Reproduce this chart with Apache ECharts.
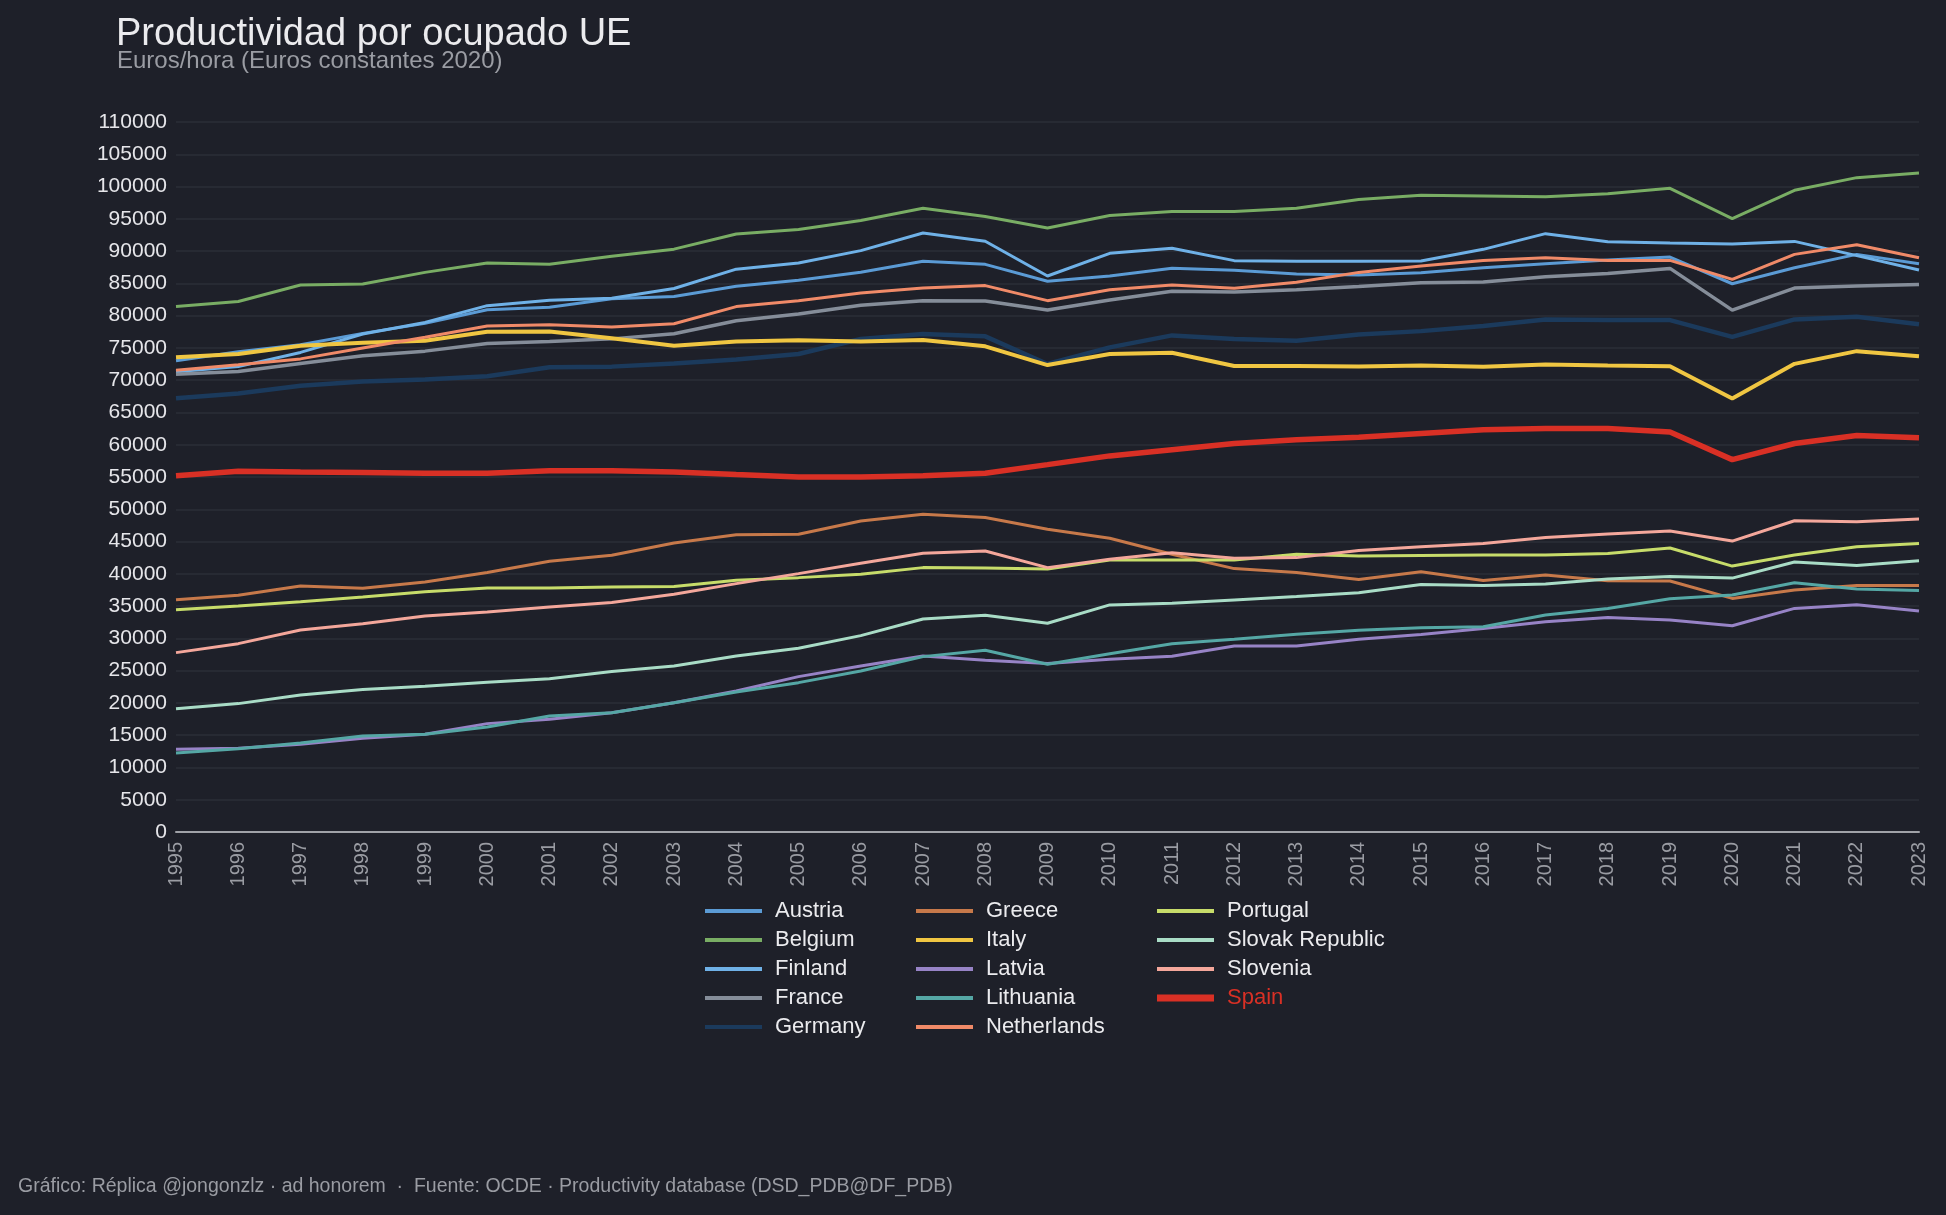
<!DOCTYPE html>
<html lang="es">
<head>
<meta charset="UTF-8">
<title>Productividad por ocupado UE</title>
<script src="https://cdn.jsdelivr.net/npm/echarts@6/dist/echarts.min.js"></script>
<style>
html, body { margin: 0; padding: 0; background: #1e2029; }
#chart { width: 1946px; height: 1215px; }
</style>
</head>
<body>
<div id="chart"></div>
<script>
const years = ['1995','1996','1997','1998','1999','2000','2001','2002','2003','2004','2005','2006','2007','2008','2009','2010','2011','2012','2013','2014','2015','2016','2017','2018','2019','2020','2021','2022','2023'];

const austria = [73000, 74400, 75500, 77250, 78800, 80900, 81300, 82600, 82950, 84550, 85470, 86710, 88420, 87950, 85320, 86140, 87330, 87020, 86450, 86300, 86650, 87420, 88040, 88610, 89080, 84940, 87420, 89490, 88040];
const belgium = [81400, 82200, 84750, 84900, 86700, 88150, 87950, 89200, 90300, 92650, 93330, 94730, 96640, 95350, 93590, 95500, 96120, 96120, 96640, 98000, 98640, 98540, 98430, 98900, 99730, 95020, 99420, 101380, 102100];
const finland = [71300, 72100, 74300, 77150, 78950, 81550, 82400, 82700, 84200, 87200, 88160, 90070, 92810, 91520, 86140, 89660, 90440, 88520, 88420, 88440, 88460, 90270, 92700, 91450, 91250, 91090, 91500, 89300, 87060];
const france = [70900, 71350, 72600, 73800, 74500, 75700, 76000, 76400, 77200, 79200, 80250, 81600, 82320, 82270, 80870, 82420, 83770, 83660, 84020, 84530, 85090, 85200, 86030, 86540, 87320, 80860, 84270, 84580, 84840];
const germany = [67200, 67950, 69150, 69800, 70100, 70600, 72000, 72100, 72600, 73200, 74050, 76380, 77150, 76790, 72500, 75080, 76940, 76380, 76120, 77060, 77600, 78380, 79410, 79310, 79310, 76720, 79410, 79820, 78680];
const greece = [36000, 36670, 38120, 37760, 38740, 40190, 41940, 42870, 44780, 46070, 46130, 48190, 49230, 48710, 46900, 45510, 43030, 40810, 40190, 39120, 40320, 38980, 39800, 38930, 38880, 36190, 37480, 38200, 38200];
const italy = [73550, 74050, 75350, 75800, 76100, 77500, 77550, 76500, 75350, 76000, 76170, 76010, 76220, 75240, 72340, 74050, 74250, 72190, 72190, 72130, 72270, 72070, 72430, 72270, 72170, 67160, 72530, 74500, 73720];
const latvia = [12810, 12970, 13590, 14520, 15140, 16790, 17460, 18490, 20040, 21850, 24070, 25720, 27270, 26600, 26090, 26760, 27220, 28820, 28820, 29870, 30610, 31540, 32570, 33240, 32830, 31950, 34640, 35210, 34230];
const lithuania = [12240, 12900, 13790, 14880, 15140, 16270, 17980, 18490, 20040, 21700, 23140, 24950, 27170, 28150, 25980, 27630, 29180, 29860, 30630, 31260, 31640, 31800, 33610, 34640, 36140, 36710, 38620, 37640, 37430];
const netherlands = [71550, 72400, 73300, 75000, 76650, 78400, 78600, 78250, 78750, 81400, 82320, 83510, 84280, 84650, 82320, 84020, 84750, 84230, 85160, 86700, 87680, 88560, 88970, 88560, 88560, 85610, 89490, 90990, 88970];
const portugal = [34450, 35020, 35690, 36420, 37240, 37810, 37810, 37970, 38020, 39000, 39410, 39930, 40960, 40910, 40760, 42150, 42150, 42150, 43030, 42760, 42850, 42900, 42900, 43160, 43990, 41200, 42900, 44200, 44710];
const slovakia = [19110, 19890, 21230, 22060, 22570, 23190, 23760, 24850, 25720, 27270, 28460, 30420, 33010, 33580, 32340, 35180, 35440, 35950, 36470, 37050, 38360, 38200, 38410, 39180, 39600, 39340, 41820, 41300, 42030];
const slovenia = [27790, 29180, 31300, 32280, 33470, 34090, 34870, 35540, 36830, 38480, 40030, 41630, 43180, 43540, 40960, 42250, 43280, 42410, 42510, 43610, 44200, 44710, 45640, 46160, 46620, 45070, 48220, 48070, 48480];
const spain = [55200, 55900, 55770, 55700, 55580, 55580, 55960, 55960, 55770, 55380, 55000, 55000, 55190, 55580, 56920, 58270, 59230, 60190, 60770, 61150, 61730, 62310, 62500, 62500, 61960, 57690, 60190, 61440, 61090];

const countries = [
  { name: 'Austria', data: austria, color: '#5b9bd5', width: 3 },
  { name: 'Belgium', data: belgium, color: '#79ad64', width: 3 },
  { name: 'Finland', data: finland, color: '#6fb1e7', width: 3 },
  { name: 'France', data: france, color: '#858d99', width: 3.5 },
  { name: 'Germany', data: germany, color: '#1b3a5c', width: 4.5 },
  { name: 'Greece', data: greece, color: '#c7794a', width: 3 },
  { name: 'Italy', data: italy, color: '#f0c642', width: 4 },
  { name: 'Latvia', data: latvia, color: '#9783c6', width: 3 },
  { name: 'Lithuania', data: lithuania, color: '#55a7a5', width: 3 },
  { name: 'Netherlands', data: netherlands, color: '#f08a68', width: 3 },
  { name: 'Portugal', data: portugal, color: '#c7dc6a', width: 3 },
  { name: 'Slovak Republic', data: slovakia, color: '#a9dcc6', width: 3 },
  { name: 'Slovenia', data: slovenia, color: '#f4a79b', width: 3 },
  { name: 'Spain', data: spain, color: '#d93025', width: 5.5 }
];

const thinIcon = 'path://M0,0L56,0L56,4L0,4Z';
const thickIcon = 'path://M0,0L56,0L56,7L0,7Z';
const legendCols = [
  { left: 705, names: ['Austria', 'Belgium', 'Finland', 'France', 'Germany'] },
  { left: 916, names: ['Greece', 'Italy', 'Latvia', 'Lithuania', 'Netherlands'] },
  { left: 1157, names: ['Portugal', 'Slovak Republic', 'Slovenia', 'Spain'] }
];

const chart = echarts.init(document.getElementById('chart'));
chart.setOption({
  animation: false,
  backgroundColor: '#1e2029',
  textStyle: { fontFamily: 'Liberation Sans, Arial, sans-serif' },
  title: [{
    text: 'Productividad por ocupado UE',
    left: 116,
    top: 16,
    padding: 0,
    textStyle: { color: '#ebebee', fontSize: 38, fontWeight: 'normal' }
  }, {
    text: 'Euros/hora (Euros constantes 2020)',
    left: 117,
    top: 49,
    padding: 0,
    textStyle: { color: '#9a9ca3', fontSize: 24, fontWeight: 'normal' }
  }, {
    text: 'Gráfico: Réplica @jongonzlz · ad honorem  ·  Fuente: OCDE · Productivity database (DSD_PDB@DF_PDB)',
    left: 18,
    top: 1177,
    padding: 0,
    textStyle: { color: '#9a9ca3', fontSize: 19.5, fontWeight: 'normal' }
  }],
  legend: legendCols.map(function (col) {
    return {
      orient: 'vertical',
      left: col.left,
      top: 900,
      padding: 0,
      itemWidth: 57,
      itemHeight: 8,
      itemGap: 7,
      textStyle: { color: '#ebebee', fontSize: 22, lineHeight: 22, padding: [0, 0, 0, 8] },
      data: col.names.map(function (n) {
        const c = countries.find(function (x) { return x.name === n; });
        return {
          name: n,
          icon: n === 'Spain' ? thickIcon : thinIcon,
          itemStyle: { color: c.color },
          textStyle: n === 'Spain' ? { color: '#d93025' } : undefined
        };
      })
    };
  }),
  grid: { left: 176, right: 27, top: 122, bottom: 383, containLabel: false },
  xAxis: {
    type: 'category',
    data: years,
    boundaryGap: false,
    axisLine: { lineStyle: { color: '#a0a2a8', width: 2 } },
    axisTick: { show: false },
    axisLabel: { rotate: 90, color: '#9a9ca3', fontSize: 20, margin: 10, interval: 0 },
    splitLine: { show: false }
  },
  yAxis: {
    type: 'value',
    min: 0,
    max: 110000,
    interval: 5000,
    axisLine: { show: false },
    axisTick: { show: false },
    axisLabel: { color: '#e6e6ea', fontSize: 21, margin: 9, formatter: function (v) { return String(v); } },
    splitLine: { lineStyle: { color: '#2b2e37', width: 1.5 } }
  },
  series: countries.map(function (c, i) {
    return {
      name: c.name,
      type: 'line',
      data: c.data,
      showSymbol: false,
      symbol: 'none',
      z: c.name === 'Spain' ? 10 : 2 + i * 0.01,
      itemStyle: { color: c.color },
      lineStyle: { color: c.color, width: c.width }
    };
  })
});
</script>
</body>
</html>
